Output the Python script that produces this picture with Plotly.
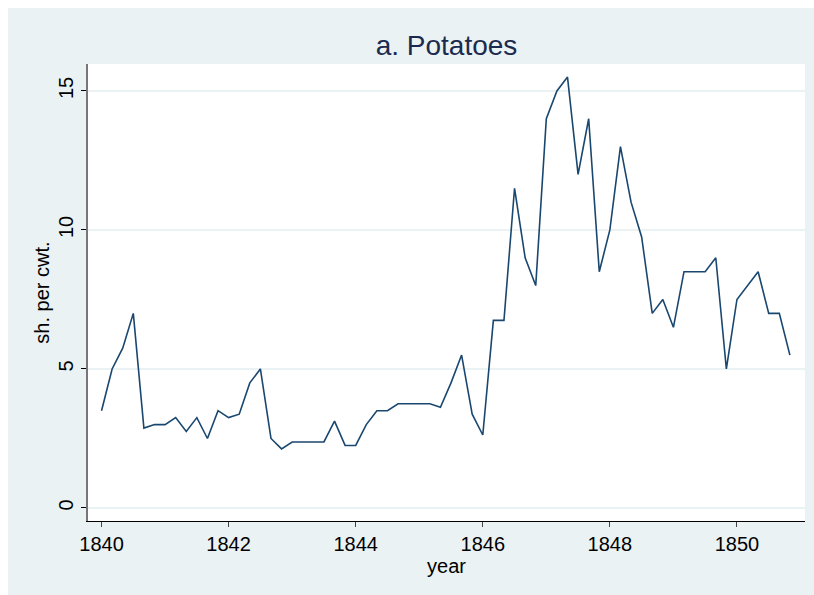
import plotly.graph_objects as go

# potato prices, sh. per cwt., sampled every two months from Jan 1840
start_year = 1840
prices = [
    3.5, 5, 5.75, 7, 2.875, 3, 3, 3.25, 2.75, 3.25, 2.5, 3.5,
    3.25, 3.375, 4.5, 5, 2.5, 2.125, 2.375, 2.375, 2.375, 2.375, 3.125, 2.25,
    2.25, 3, 3.5, 3.5, 3.75, 3.75, 3.75, 3.75, 3.625, 4.5, 5.5, 3.375,
    2.625, 6.75, 6.75, 11.5, 9, 8, 14, 15, 15.5, 12, 14, 8.5,
    10, 13, 11, 9.75, 7, 7.5, 6.5, 8.5, 8.5, 8.5, 9, 5,
    7.5, 8, 8.5, 7, 7, 5.5,
]
years = [start_year + m / 6 for m in range(len(prices))]

x_ticks = [1840, 1842, 1844, 1846, 1848, 1850]
y_ticks = [0, 5, 10, 15]

# figure sits 8px in from the top-left of the page, flush on the other sides
W, H = 806, 587
L, R, T, B = 80, 9, 56, 74
BG = "#EAF2F3"
FONT = "Liberation Sans, Arial, Helvetica, sans-serif"

fig = go.Figure()
fig.add_trace(go.Scatter(
    x=years,
    y=prices,
    mode="lines",
    line=dict(color="#1A476F", width=1.6),
    showlegend=False,
))

fig.update_layout(
    width=W,
    height=H,
    margin=dict(l=L, r=R, t=T, b=B),
    paper_bgcolor=BG,
    plot_bgcolor="white",
    font=dict(family=FONT, size=20, color="black"),
    title=dict(
        text="a. Potatoes",
        font=dict(family=FONT, size=28, color="#1C2A4F"),
        x=(L + (W - L - R) / 2) / W,
        xanchor="center",
        y=1 - 37 / H,
        yanchor="middle",
    ),
)

fig.update_xaxes(
    range=[1839.787, 1851.071],
    tickvals=x_ticks,
    ticks="outside",
    ticklen=5,
    tickcolor="#444",
    showgrid=False,
    zeroline=False,
    showline=True,
    linecolor="black",
    linewidth=1,
    title=dict(text="year", font=dict(size=20), standoff=4),
)

fig.update_yaxes(
    range=[-0.468, 15.97],
    tickvals=y_ticks,
    ticks="outside",
    ticklen=5,
    tickcolor="black",
    tickangle=-90,
    showgrid=True,
    gridcolor=BG,
    gridwidth=1.5,
    zeroline=False,
    showline=True,
    linecolor="#777777",
    linewidth=1.5,
    title=dict(text="sh. per cwt.", font=dict(size=20), standoff=0),
)

fig.write_html(
    "out.html",
    post_script="document.body.style.margin = '8px 0 0 8px';"
                "document.body.style.overflow = 'hidden';",
)
